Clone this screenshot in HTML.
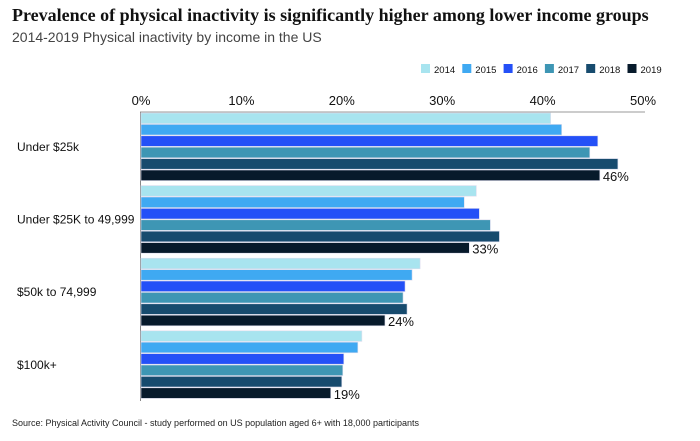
<!DOCTYPE html>
<html><head><meta charset="utf-8"><style>
body{margin:0;background:#fff;width:700px;height:441px;overflow:hidden;font-family:"Liberation Sans",sans-serif}
#title{position:absolute;left:12px;top:5px;font-family:"Liberation Serif",serif;font-weight:bold;font-size:18px;color:#111;white-space:nowrap}
#sub{position:absolute;left:12px;top:29px;font-size:14px;color:#444}
#src{position:absolute;left:12px;top:418px;font-size:9px;color:#222;white-space:nowrap}
svg{position:absolute;left:0;top:0}
</style></head><body>
<div id="title">Prevalence of physical inactivity is significantly higher among lower income groups</div>
<div id="sub">2014-2019 Physical inactivity by income in the US</div>
<div id="src">Source: Physical Activity Council - study performed on US population aged 6+ with 18,000 participants</div>
<svg id="c" width="700" height="441"></svg>
<script>
const categories=["Under $25k","Under $25K to 49,999","$50k to 74,999","$100k+"];
const years=["2014","2015","2016","2017","2018","2019"];
const colors=["#a8e4ef","#3fa9f2","#2450f7","#3e96b4","#174b6e","#071a2b"];
const v2014=[40.8,33.4,27.8,22.0];
const v2015=[41.9,32.2,27.0,21.6];
const v2016=[45.5,33.7,26.3,20.2];
const v2017=[44.7,34.8,26.1,20.1];
const v2018=[47.5,35.7,26.5,20.0];
const v2019=[45.7,32.7,24.3,18.9];
const labels2019=["46%","33%","24%","19%"];
const ticks=[0,10,20,30,40,50];
const series=[v2014,v2015,v2016,v2017,v2018,v2019];
const NS="http://www.w3.org/2000/svg",svg=document.getElementById('c');
const x=v=>141+v*10.04;
const gy=i=>113+i*72.6;
function mk(t,a,p){const e=document.createElementNS(NS,t);for(const k in a)e.setAttribute(k,a[k]);(p||svg).appendChild(e);return e;}
ticks.forEach(t=>{const e=mk('text',{x:x(t),y:105,'text-anchor':'middle','font-size':13,fill:'#111'});e.textContent=t+'%';

});
const ax=mk('line',{x1:140,y1:112,x2:645,y2:112,stroke:'#999','stroke-width':1});


const ay=mk('line',{x1:140.5,y1:112,x2:140.5,y2:401,stroke:'#888','stroke-width':1});


categories.forEach((c,i)=>{
  const t=mk('text',{x:17,y:gy(i)+38,'font-size':12,fill:'#111'});t.textContent=c;
  
  
  series.forEach((s,j)=>{
    const r=mk('rect',{x:141,y:gy(i)+j*11.4,width:x(s[i])-141,height:10.6,fill:colors[j],stroke:'#dde',"stroke-width":0.6});
    
    
  });
  const l=mk('text',{x:x(v2019[i])+3,y:gy(i)+5*11.4+11,'font-size':13,fill:'#111'});l.textContent=labels2019[i];
  
  
});
years.forEach((y,j)=>{
  const lx=421+j*41.3;
  const g=mk('g',{});
  
  
  mk('rect',{x:lx,y:64,width:9,height:9,fill:colors[j]},g);
  const t=mk('text',{x:lx+13,y:73,'font-size':9.5,fill:'#111'},g);t.textContent=y;
});
</script>
</body></html>
